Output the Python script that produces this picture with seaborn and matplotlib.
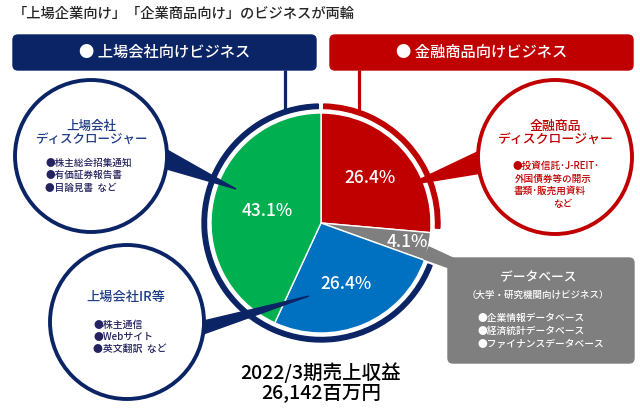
import matplotlib.pyplot as plt
import numpy as np
import seaborn as sns
from matplotlib.patches import Circle, FancyBboxPatch, Polygon, Wedge

# Revenue share, FY2022/3 (clockwise from top)
segments = ["金融商品ディスクロージャー", "データベース", "上場会社IR等", "上場会社ディスクロージャー"]
shares = [26.4, 4.1, 26.4, 43.1]
slice_colors = ["#c00000", "#7f7f7f", "#0070c0", "#00b050"]
label_radius = [0.6, 0.8, 0.6, 0.5]

title = "「上場企業向け」「企業商品向け」のビジネスが両輪"
banner_left = "● 上場会社向けビジネス"
banner_right = "● 金融商品向けビジネス"
disc_head = "上場会社\nディスクロージャー"
disc_items = ["●株主総会招集通知", "●有価証券報告書", "●目論見書  など"]
ir_head = "上場会社IR等"
ir_items = ["●株主通信", "●Webサイト", "●英文翻訳  など"]
fin_head = "金融商品\nディスクロージャー"
fin_items = ["●投資信託･J-REIT･", "外国債券等の開示", "書類･販売用資料", "など"]
db_head = "データベース"
db_sub = "（大学・研究機関向けビジネス）"
db_items = ["●企業情報データベース", "●経済統計データベース", "●ファイナンスデータベース"]
total_text = "2022/3期売上収益\n26,142百万円"

NAVY = "#0b2466"
RED = "#c00000"
GRAY = "#7f7f7f"

sns.set_theme(style="white")
plt.rcParams["font.family"] = ["Noto Sans CJK JP", "DejaVu Sans"]

W, H = 640, 408


def Y(py):
    return H - py


fig = plt.figure(figsize=(6.4, 4.08), dpi=100)
ax = fig.add_axes([0, 0, 1, 1])

cx, cy, r = 321, Y(223), 110
wedges, _ = ax.pie(
    shares, colors=slice_colors, startangle=90, counterclock=False,
    center=(cx, cy), radius=r,
    wedgeprops=dict(edgecolor="white", linewidth=1),
)
for w in wedges:
    w.set_zorder(2)

# slice labels
for w, v, k in zip(wedges, shares, label_radius):
    mid = np.deg2rad((w.theta1 + w.theta2) / 2)
    ax.text(cx + k * r * np.cos(mid), cy + k * r * np.sin(mid), f"{v:.1f}%",
            color="white", fontsize=12.5, fontweight="medium",
            ha="center", va="center", zorder=6)

# outer rings
red_w, gray_w, blue_w = wedges[0], wedges[1], wedges[2]
ax.add_patch(Wedge((cx, cy), 119, red_w.theta1 + 2.5, 88.7, width=4.5,
                   color=RED, zorder=3))
ax.add_patch(Wedge((cx, cy), 119, 91.3, 360 + blue_w.theta2 - 1.2, width=4.5,
                   color=NAVY, zorder=3))

# banners
ax.add_patch(FancyBboxPatch((13, Y(70)), 303, 35,
                            boxstyle="round,pad=0,rounding_size=5",
                            color=NAVY, zorder=3))
ax.add_patch(FancyBboxPatch((330, Y(70)), 303, 35,
                            boxstyle="round,pad=0,rounding_size=5",
                            color=RED, zorder=3))
ax.text(164.5, Y(52), banner_left, color="white", fontsize=11,
        fontweight="medium", ha="center", va="center", zorder=4)
ax.text(481.5, Y(52), banner_right, color="white", fontsize=11,
        fontweight="medium", ha="center", va="center", zorder=4)
ax.plot([285, 285], [Y(70), Y(112)], color=NAVY, lw=2.3, zorder=3,
        solid_capstyle="butt")
ax.plot([359, 359], [Y(70), Y(112)], color=RED, lw=2.3, zorder=3,
        solid_capstyle="butt")

ax.text(13, Y(14), title, color="#262626", fontsize=10.3,
        fontweight="medium", ha="left", va="center")

# callout tails
ax.add_patch(Polygon([(160, Y(146)), (236, Y(189)), (160, Y(167))],
                     color=NAVY, zorder=4))
ax.add_patch(Polygon([(195, Y(323)), (309, Y(296)), (195, Y(337))],
                     color=NAVY, zorder=4))
ax.add_patch(Polygon([(488, Y(147)), (408, Y(185)), (488, Y(172))],
                     color=RED, zorder=4))
ax.add_patch(Polygon([(429, Y(247)), (455, Y(259)), (455, Y(270)),
                      (424, Y(259))], color=GRAY, zorder=4))

# bubbles
ax.add_patch(Circle((91, Y(156)), 76, facecolor="white", edgecolor=NAVY,
                    lw=2.8, zorder=5))
ax.add_patch(Circle((127, Y(322)), 77, facecolor="white", edgecolor=NAVY,
                    lw=2.8, zorder=5))
ax.add_patch(Circle((555, Y(157)), 77, facecolor="white", edgecolor=RED,
                    lw=2.8, zorder=5))
ax.add_patch(FancyBboxPatch((448, Y(363)), 186, 105,
                            boxstyle="round,pad=0,rounding_size=5",
                            color=GRAY, zorder=5))

# bubble texts
ax.text(91, Y(133), disc_head, color="#1f3c88", fontsize=9, ha="center",
        va="center", linespacing=1.05, fontweight="medium", zorder=6)
for i, s in enumerate(disc_items):
    ax.text(45, Y(163 + 12.3 * i), s, color="#25235f", fontsize=6.9,
            fontweight="medium", ha="left", va="center", zorder=6)

ax.text(126, Y(297), ir_head, color="#1f3c88", fontsize=9.5, ha="center",
        va="center", fontweight="medium", zorder=6)
for i, s in enumerate(ir_items):
    ax.text(93, Y(325 + 12 * i), s, color="#25235f", fontsize=7.1,
            fontweight="medium", ha="left", va="center", zorder=6)

ax.text(555, Y(133), fin_head, color=RED, fontsize=9.3, ha="center",
        va="center", linespacing=1.0, fontweight="medium", zorder=6)
fin_x = [556, 553, 550, 563]
for i, s in enumerate(fin_items):
    ax.text(fin_x[i], Y(166 + 12.5 * i), s, color=RED, fontsize=6.9,
            fontweight="medium", ha="center", va="center", zorder=6)

ax.text(538, Y(278), db_head, color="white", fontsize=9.2, ha="center",
        va="center", fontweight="medium", zorder=6)
ax.text(538, Y(295), db_sub, color="white", fontsize=6.8, ha="center",
        va="center", fontweight="medium", zorder=6)
for i, s in enumerate(db_items):
    ax.text(477, Y(318 + 13 * i), s, color="white", fontsize=7,
            fontweight="medium", ha="left", va="center", zorder=6)

ax.text(321, Y(382), total_text, color="black", fontsize=14, ha="center",
        va="center", linespacing=1.0, fontweight="medium", zorder=6)

ax.set_xlim(0, W)
ax.set_ylim(0, H)
ax.set_aspect("equal")
ax.axis("off")

fig.savefig("out.png", dpi=100, facecolor="white")
